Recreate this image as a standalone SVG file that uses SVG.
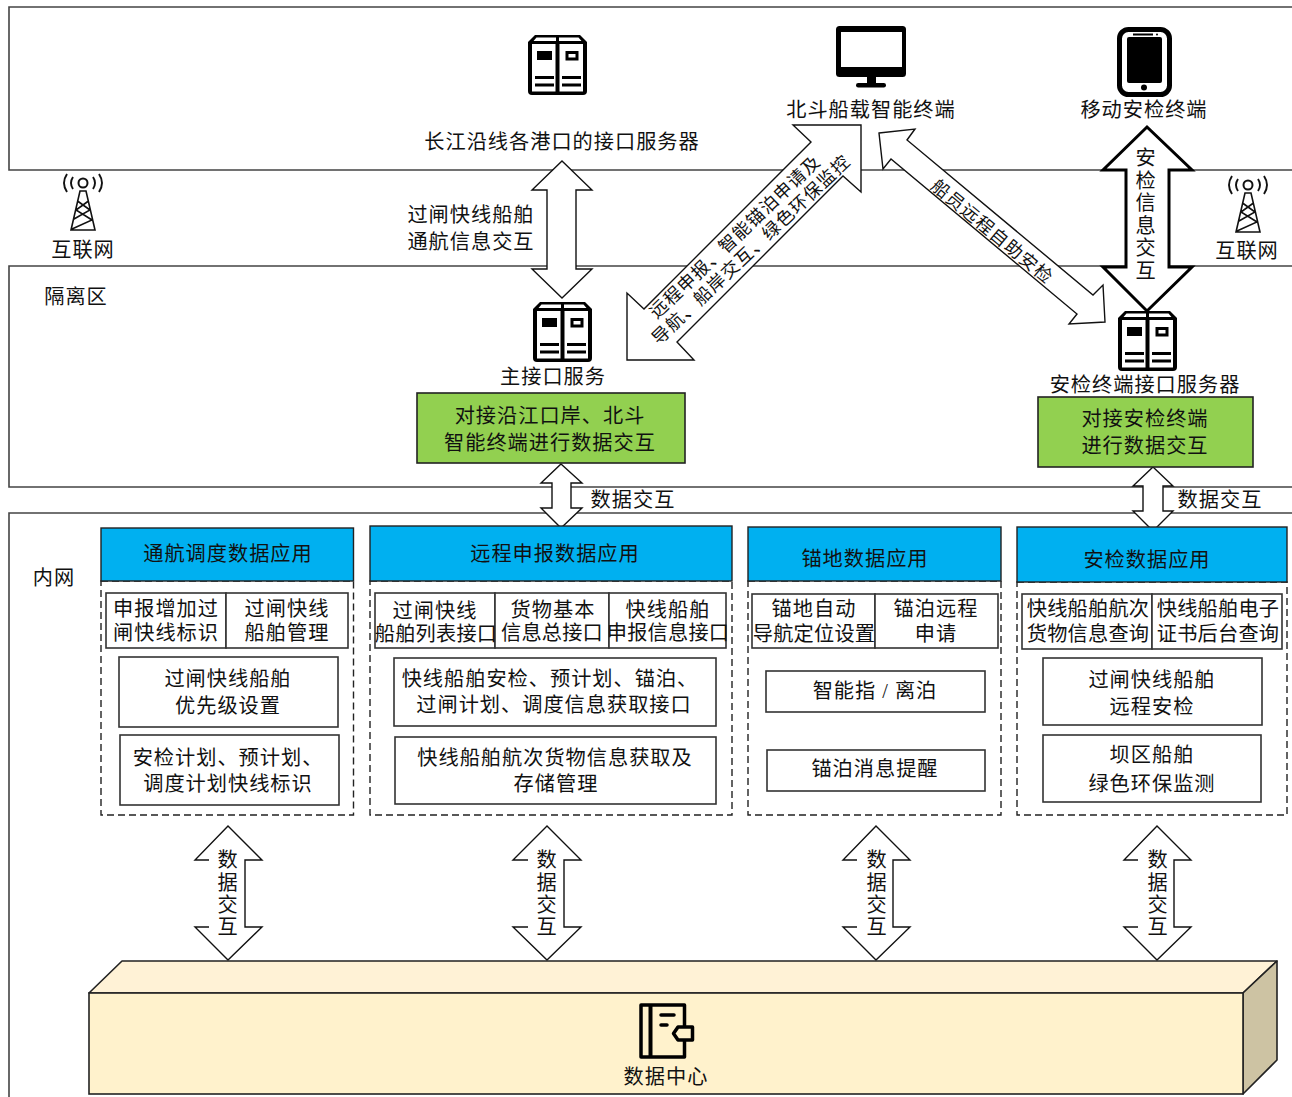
<svg xmlns="http://www.w3.org/2000/svg" width="1292" height="1097" viewBox="0 0 1292 1097">
<style>
text{font-family:"Liberation Serif","Noto Sans CJK SC",serif;font-size:20.2px;letter-spacing:1px;fill:#111;text-anchor:middle}
text.tight{letter-spacing:0.2px}
.zone{fill:#fff;stroke:#444;stroke-width:1.6}
.arr{fill:#fff;stroke:#111;stroke-width:1.4;stroke-linejoin:miter}
.mask{fill:#fff;stroke:none}
.box{fill:#fff;stroke:#333;stroke-width:1.6}
.green{fill:#92D050;stroke:#222;stroke-width:1.6}
.head{fill:#00B0F0;stroke:#222;stroke-width:1.4}
.dash{fill:#fff;stroke:#222;stroke-width:1.4;stroke-dasharray:7 4}
text.diag{font-size:17.8px;letter-spacing:1.2px}
</style>
<defs>
<g id="server">
<path fill="#000" d="M7 0H52L59 7V56Q59 60 55 60H4Q0 60 0 56V7Z"/>
<path fill="#fff" d="M8.500 2.500H28V6H5.500ZM31 2.500H50.500L53.500 6H31Z"/>
<rect fill="#fff" x="4" y="9" width="23.500" height="47.500"/>
<rect fill="#fff" x="31.500" y="9" width="23.500" height="47.500"/>
<rect fill="#000" x="9" y="16" width="15" height="9"/>
<rect fill="none" stroke="#000" stroke-width="3" x="39" y="17.500" width="10" height="6.500"/>
<path stroke="#000" stroke-width="3" d="M7 42.500H26M7 50H26M34 42.500H53M34 50H53"/>
</g>
<g id="tower" fill="none" stroke="#111">
<circle cx="0" cy="0" r="4.500" stroke-width="2"/>
<path stroke-width="1.900" d="M-10 -6Q-14 0 -10 6M10 -6Q14 0 10 6M-16 -9Q-22 0 -16 9M16 -9Q22 0 16 9"/>
<path stroke-width="1.600" d="M-3 8H3L12 47H-12ZM-5.500 18L7 27L-9 36M5.500 18L-7 27L9 37L-11 46"/>
</g>
</defs>

<g id="zones">
<path class="zone" d="M1292 7H9V170H1292"/>
<path class="zone" d="M1292 266H9V487H1292"/>
<path class="zone" d="M1292 513H9V1097"/>
<text x="76" y="304">隔离区</text>
<text x="54" y="585">内网</text>
</g>

<g id="connectors">
<polygon class="arr" points="562,161 592,190 576,190 576,269 592,269 562,298 532,269 547,269 547,190 532,190"/>
<polygon class="arr" points="861,125 793,125 811,142 644,309 627,293 627,360 694,360 677,342 843,176 861,192"/>
<polygon class="arr" points="879,133 915,129 907,140 1093,295 1103,285 1105,322 1069,324 1077,314 891,159 883,169"/>
<polygon class="arr" style="stroke-width:3;stroke:#000" points="1147,127 1192,170 1169,170 1169,267 1192,267 1147,311 1103,267 1126,267 1126,170 1103,170"/>
<polygon class="arr" points="561,464 582,483 571,483 571,508 582,508 561,528 541,508 552,508 552,483 541,483"/>
<polygon class="arr" points="1153,467 1173,486 1163,486 1163,511 1173,511 1153,531 1133,511 1143,511 1143,486 1133,486"/>
<polygon class="arr" points="228,826 262,860 245,860 245,927 262,927 228,960 195,927 211,927 211,860 195,860"/>
<polygon class="arr" points="547,826 581,860 564,860 564,927 581,927 547,960 513,927 530,927 530,860 513,860"/>
<polygon class="arr" points="876,826 910,860 893,860 893,927 910,927 876,960 843,927 859,927 859,860 843,860"/>
<polygon class="arr" points="1157,826 1191,860 1174,860 1174,927 1191,927 1157,960 1124,927 1140,927 1140,860 1124,860"/>
<rect class="mask" x="209" y="850" width="30" height="88"/>
<rect class="mask" x="528" y="850" width="30" height="88"/>
<rect class="mask" x="857" y="850" width="30" height="88"/>
<rect class="mask" x="1138" y="850" width="30" height="88"/>
<text x="471" y="222">过闸快线船舶</text>
<text x="471" y="249">通航信息交互</text>
<text class="diag" transform="translate(735 236.500) rotate(-43.500)" y="6.500">远程申报、智能锚泊申请及</text>
<text class="diag" transform="translate(751 249.500) rotate(-43.500)" y="6.500">导航、船岸交互、绿色环保监控</text>
<text class="diag" transform="translate(992.500 231.500) rotate(39.600)" y="6.500">船员远程自助安检</text>
<text x="1146" y="165">安</text><text x="1146" y="188">检</text><text x="1146" y="210">信</text><text x="1146" y="233">息</text><text x="1146" y="255">交</text><text x="1146" y="278">互</text>
<text x="633" y="507">数据交互</text>
<text x="1220" y="507">数据交互</text>
<text x="228" y="867">数</text><text x="228" y="890">据</text><text x="228" y="912">交</text><text x="228" y="934">互</text>
<text x="547" y="867">数</text><text x="547" y="890">据</text><text x="547" y="912">交</text><text x="547" y="934">互</text>
<text x="877" y="867">数</text><text x="877" y="890">据</text><text x="877" y="912">交</text><text x="877" y="934">互</text>
<text x="1158" y="867">数</text><text x="1158" y="890">据</text><text x="1158" y="912">交</text><text x="1158" y="934">互</text>
</g>

<g id="port-server"><use href="#server" x="528" y="35"/><text x="562" y="149">长江沿线各港口的接口服务器</text></g>
<g id="beidou-terminal">
<rect x="836" y="26" width="70" height="51" rx="3.500" fill="#000"/>
<rect x="841" y="32" width="61" height="35" fill="#fff"/>
<rect x="867" y="76" width="9" height="8" fill="#000"/>
<rect x="856" y="83" width="30" height="4.500" rx="2.200" fill="#000"/>
<text x="871" y="117">北斗船载智能终端</text>
</g>
<g id="mobile-terminal">
<rect x="1119.500" y="29.500" width="50" height="65" rx="9" fill="#fff" stroke="#000" stroke-width="5"/>
<rect x="1127" y="37" width="35" height="46" rx="2" fill="#000"/>
<rect x="1133" y="33.500" width="20" height="2" fill="#000"/>
<circle cx="1157" cy="34.500" r="1" fill="#000"/>
<circle cx="1144" cy="87.500" r="3" fill="#000"/>
<text x="1144" y="117">移动安检终端</text>
</g>
<g id="internet-left"><use href="#tower" x="83" y="183"/><text x="83" y="257">互联网</text></g>
<g id="internet-right"><use href="#tower" x="1248" y="185"/><text x="1247" y="258">互联网</text></g>
<g id="main-server"><use href="#server" x="533" y="302"/><text x="553" y="384">主接口服务</text></g>
<g id="security-server"><use href="#server" x="1118" y="311"/><text x="1145" y="392">安检终端接口服务器</text></g>
<g id="main-exchange"><rect class="green" x="417" y="393" width="268" height="70"/><text x="550" y="423">对接沿江口岸、北斗</text><text x="550" y="450">智能终端进行数据交互</text></g>
<g id="security-exchange"><rect class="green" x="1038" y="397" width="215" height="70"/><text x="1145" y="426">对接安检终端</text><text x="1145" y="453">进行数据交互</text></g>

<g id="app-navigation">
<rect class="dash" x="101" y="581" width="252.500" height="234"/>
<rect class="head" x="101" y="528" width="252.500" height="53"/>
<text x="228" y="561">通航调度数据应用</text>
<rect class="box" x="106" y="593" width="120" height="55"/><rect class="box" x="226" y="593" width="122" height="55"/>
<text x="166" y="616">申报增加过</text><text x="166" y="640">闸快线标识</text>
<text x="287" y="616">过闸快线</text><text x="287" y="640">船舶管理</text>
<rect class="box" x="119" y="657" width="219" height="70"/>
<text x="228" y="686">过闸快线船舶</text><text x="228" y="713">优先级设置</text>
<rect class="box" x="120" y="735" width="219" height="70"/>
<text x="228" y="765">安检计划、预计划、</text><text x="228" y="791">调度计划快线标识</text>
</g>

<g id="app-remote">
<rect class="dash" x="370" y="581" width="362" height="234"/>
<rect class="head" x="370" y="526" width="362" height="55"/>
<text x="555" y="561">远程申报数据应用</text>
<rect class="box" x="375" y="593" width="120" height="55"/><rect class="box" x="495" y="593" width="114" height="55"/><rect class="box" x="609" y="593" width="117" height="55"/>
<text x="435" y="618">过闸快线</text><text class="tight" x="436" y="641">船舶列表接口</text>
<text x="553" y="617">货物基本</text><text class="tight" x="552" y="640">信息总接口</text>
<text x="668" y="617">快线船舶</text><text class="tight" x="668" y="640">申报信息接口</text>
<rect class="box" x="394" y="658" width="322" height="68"/>
<text x="550" y="686">快线船舶安检、预计划、锚泊、</text><text x="554" y="712">过闸计划、调度信息获取接口</text>
<rect class="box" x="395" y="737" width="321" height="67"/>
<text x="555" y="765">快线船舶航次货物信息获取及</text><text x="556" y="791">存储管理</text>
</g>

<g id="app-anchorage">
<rect class="dash" x="748" y="581" width="253" height="234"/>
<rect class="head" x="748" y="527" width="253" height="54"/>
<text x="865" y="566">锚地数据应用</text>
<rect class="box" x="752" y="594" width="123" height="54"/><rect class="box" x="875" y="594" width="123" height="54"/>
<text x="814" y="616">锚地自动</text><text class="tight" x="814" y="641">导航定位设置</text>
<text x="936" y="616">锚泊远程</text><text x="936" y="641">申请</text>
<rect class="box" x="766" y="671" width="219" height="41"/>
<text x="875" y="698">智能指 / 离泊</text>
<rect class="box" x="767" y="750" width="218" height="41"/>
<text x="875" y="776">锚泊消息提醒</text>
</g>

<g id="app-security">
<rect class="dash" x="1017" y="582" width="270" height="233"/>
<rect class="head" x="1017" y="527" width="270" height="55"/>
<text x="1147" y="567">安检数据应用</text>
<rect class="box" x="1022" y="594" width="130" height="55"/><rect class="box" x="1152" y="594" width="130" height="55"/>
<text class="tight" x="1088" y="616">快线船舶航次</text><text class="tight" x="1088" y="641">货物信息查询</text>
<text class="tight" x="1218" y="616">快线船舶电子</text><text class="tight" x="1218" y="641">证书后台查询</text>
<rect class="box" x="1043" y="658" width="219" height="67"/>
<text x="1152" y="687">过闸快线船舶</text><text x="1152" y="714">远程安检</text>
<rect class="box" x="1043" y="735" width="218" height="67"/>
<text x="1152" y="762">坝区船舶</text><text x="1152" y="791">绿色环保监测</text>
</g>

<g id="data-center">
<polygon points="122,961 1277,961 1243,993 89,993" fill="#FFF2D6" stroke="#222" stroke-width="1.600" stroke-linejoin="round"/>
<polygon points="1277,961 1277,1060 1243,1094 1243,993" fill="#CDC3A3" stroke="#222" stroke-width="1.600" stroke-linejoin="round"/>
<rect x="89" y="993" width="1154" height="101" fill="#FFF2CC" stroke="#222" stroke-width="1.600"/>
<g fill="none" stroke="#000" stroke-width="3.500" stroke-linejoin="round">
<path d="M684.500 1026V1005H641V1057H684.500V1040"/>
<path d="M650.500 1005V1057" stroke-width="4"/>
<path d="M661 1015H674M661 1025H667" stroke-linecap="round"/>
<path fill="#FFF2CC" d="M678 1027H692.500V1040H678L673.500 1033.500Z"/>
</g>
<text x="666" y="1084">数据中心</text>
</g>
</svg>
